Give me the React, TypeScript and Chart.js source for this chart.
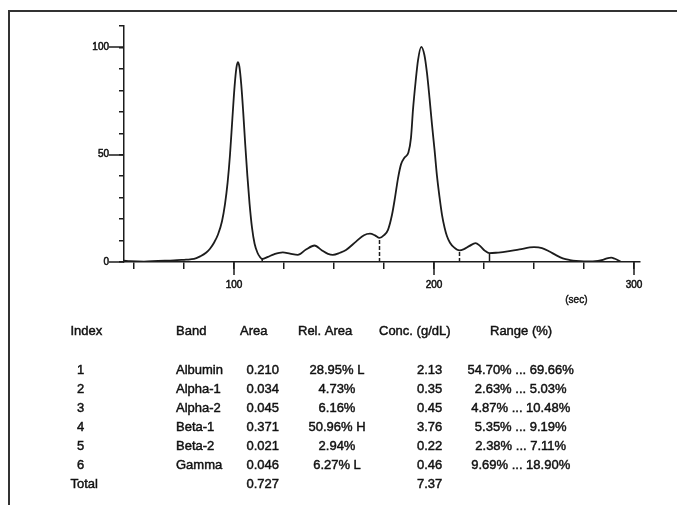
import React, { useEffect, useRef } from 'react';
import { Chart, registerables } from 'chart.js';

Chart.register(...registerables);

// ---- curve (migration time in sec, relative intensity) ----
const curveX = [
  45, 48, 55, 62, 70, 76, 80, 83, 86, 88, 90, 92, 94, 95.5, 96.8, 98, 99.2, 100.3, 101.2, 101.9,
  102.7, 103.6, 104.6, 105.6, 106.7, 107.8, 109, 110.3, 111.8, 113, 114.1, 117, 120, 124.4, 128,
  131.9, 136, 140.25, 144, 147, 149.4, 153, 156, 161, 165, 168, 170.5, 172.75, 175, 177, 179,
  180.5, 182, 183.5, 185.3, 187.2, 188.5, 189.5, 190.8, 192, 193.6, 195.2, 196.5, 197.8, 199,
  200.3, 201.5, 202.8, 204, 205.3, 206.5, 208, 210, 212.75, 215, 217.8, 220.75, 223, 225.5,
  227.75, 232, 236, 242.75, 250, 254, 257.75, 261, 264.4, 268, 271, 275, 279.4, 282, 284.4,
  286.5, 288.6, 290.5, 292.75, 293.6,
];
const curveY = [
  0.6, 0.4, 0.2, 0.5, 0.7, 1.1, 1.4, 2.6, 4.3, 6.2, 9, 12.8, 19, 27, 37, 50, 67, 82, 90.5, 93.2,
  91, 83, 70, 55, 40, 27, 16, 8.5, 4.2, 2.3, 1.4, 2.4, 3.6, 4.5, 3.9,
  3.3, 5.8, 7.7, 5.4, 3.8, 3.3, 4.3, 5.6, 9.5, 12.5, 13.2, 12.4, 11.2, 12.5, 15, 22,
  30, 39, 45.5, 48.7, 51, 58, 71, 84, 94, 100.3, 96.5, 88, 76, 64,
  52, 40, 30, 22, 16, 12, 9, 6.8, 5.4, 6.0, 7.5, 8.8, 7.5, 5.2,
  4.1, 4.4, 4.8, 5.9, 6.9, 6.5, 4.9, 3.2, 1.7, 0.9, 0.5, 0.3, 0.3, 0.5, 1.0,
  1.7, 2.0, 1.5, 0.5, 0,
];

// ---- band boundaries ----
const dividerX = [114.1, 172.75, 212.75, 227.75];
const dividerY = [1.4, 11.2, 5.4, 4.1];
const dividerDashed = [false, true, true, false];

// ---- axes ----
const xTicks = [50, 75, 100, 125, 150, 175, 200, 225, 250, 275, 300];
const xMajor = [100, 200, 300];
const yTicks = [0, 10, 20, 30, 40, 50, 60, 70, 80, 90, 100, 110];
const yMajor = [0, 50, 100];
const xUnit = '(sec)';

// ---- table ----
const headers = ['Index', 'Band', 'Area', 'Rel. Area', 'Conc. (g/dL)', 'Range (%)'];
const indexCol = ['1', '2', '3', '4', '5', '6', 'Total'];
const bandCol = ['Albumin', 'Alpha-1', 'Alpha-2', 'Beta-1', 'Beta-2', 'Gamma', ''];
const areaCol = ['0.210', '0.034', '0.045', '0.371', '0.021', '0.046', '0.727'];
const relAreaCol = ['28.95% L', '4.73%', '6.16%', '50.96% H', '2.94%', '6.27% L', ''];
const concCol = ['2.13', '0.35', '0.45', '3.76', '0.22', '0.46', '7.37'];
const rangeCol = [
  '54.70% ... 69.66%',
  '2.63% ... 5.03%',
  '4.87% ... 10.48%',
  '5.35% ... 9.19%',
  '2.38% ... 7.11%',
  '9.69% ... 18.90%',
  '',
];

const INK = '#1c1c1c';
const FONT = '"Liberation Sans", Arial, Helvetica, sans-serif';

function txt(ctx: CanvasRenderingContext2D, s: string, x: number, y: number) {
  if (!s) return;
  ctx.strokeText(s, x, y);
  ctx.fillText(s, x, y);
}

const overlayPlugin = {
  id: 'overlay',
  afterDraw(chart: any) {
    const ctx = chart.ctx as CanvasRenderingContext2D;
    const xs = chart.scales.x;
    const ys = chart.scales.y;
    ctx.save();
    ctx.strokeStyle = INK;
    ctx.lineWidth = 1.5;
    ctx.beginPath();
    xMajor.forEach((v) => {
      const px = Math.round(xs.getPixelForValue(v));
      ctx.moveTo(px, ys.bottom);
      ctx.lineTo(px, ys.bottom + 13);
    });
    yMajor.forEach((v) => {
      const py = Math.round(ys.getPixelForValue(v));
      ctx.moveTo(xs.left - 15, py);
      ctx.lineTo(xs.left, py);
    });
    ctx.stroke();

    ctx.fillStyle = '#111';
    ctx.strokeStyle = '#111';
    ctx.lineWidth = 0.4;
    ctx.font = `10px ${FONT}`;
    ctx.textAlign = 'center';
    ctx.textBaseline = 'middle';
    txt(ctx, xUnit, xs.getPixelForValue(271.2), ys.bottom + 38);

    // table
    ctx.font = `13px ${FONT}`;
    ctx.lineWidth = 0.45;
    const hy = 331.5;
    ctx.textAlign = 'left';
    txt(ctx, headers[0], 70.5, hy);
    txt(ctx, headers[1], 176, hy);
    txt(ctx, headers[2], 240, hy);
    txt(ctx, headers[3], 298, hy);
    txt(ctx, headers[4], 379, hy);
    txt(ctx, headers[5], 490, hy);
    for (let i = 0; i < indexCol.length; i++) {
      const y = 370 + 19 * i;
      if (indexCol[i] === 'Total') {
        ctx.textAlign = 'left';
        txt(ctx, indexCol[i], 70.5, y);
      } else {
        ctx.textAlign = 'center';
        txt(ctx, indexCol[i], 80.7, y);
      }
      ctx.textAlign = 'left';
      txt(ctx, bandCol[i], 176, y);
      txt(ctx, areaCol[i], 246.5, y);
      txt(ctx, concCol[i], 417, y);
      ctx.textAlign = 'center';
      txt(ctx, relAreaCol[i], 337, y);
      txt(ctx, rangeCol[i], 520.7, y);
    }
    ctx.restore();
  },
};

export default function App() {
  const ref = useRef<HTMLCanvasElement | null>(null);
  useEffect(() => {
    if (!ref.current) return;
    const curve = curveX.map((x, i) => ({ x, y: curveY[i] }));
    const dividers = dividerX.map((x, i) => ({
      data: [
        { x, y: 0 },
        { x, y: dividerY[i] },
      ],
      showLine: true,
      borderColor: INK,
      borderWidth: 1.5,
      borderDash: dividerDashed[i] ? [4, 2] : [],
      pointRadius: 0,
      tension: 0,
    }));
    const chart = new Chart(ref.current, {
      type: 'scatter',
      data: {
        datasets: [
          {
            data: curve,
            showLine: true,
            borderColor: INK,
            borderWidth: 1.8,
            pointRadius: 0,
            cubicInterpolationMode: 'monotone',
          } as any,
          ...(dividers as any[]),
        ],
      },
      plugins: [overlayPlugin],
      options: {
        responsive: false,
        animation: false,
        events: [],
        layout: { padding: { left: 84, top: 26, right: 37, bottom: 203 } },
        plugins: { legend: { display: false }, tooltip: { enabled: false } },
        scales: {
          x: {
            type: 'linear',
            position: 'bottom',
            min: 45,
            max: 303,
            afterBuildTicks: (s: any) => {
              s.ticks = xTicks.map((value) => ({ value }));
            },
            afterFit: (s: any) => {
              s.height = 40;
            },
            border: { display: true, color: INK, width: 1.5 },
            grid: { drawOnChartArea: false, tickLength: 7, color: INK, lineWidth: 1.5 },
            ticks: {
              autoSkip: false,
              maxRotation: 0,
              padding: 10,
              color: '#111',
              textStrokeColor: '#111',
              textStrokeWidth: 0.5,
              font: { size: 10, family: FONT },
              callback: (v: any) => (xMajor.includes(Number(v)) ? String(v) : ''),
            },
          },
          y: {
            type: 'linear',
            min: 0,
            max: 110,
            afterBuildTicks: (s: any) => {
              s.ticks = yTicks.map((value) => ({ value }));
            },
            afterFit: (s: any) => {
              s.width = 40;
            },
            border: { display: true, color: INK, width: 1.5 },
            grid: { drawOnChartArea: false, tickLength: 5, color: INK, lineWidth: 1.5 },
            ticks: {
              autoSkip: false,
              padding: 10,
              color: '#111',
              textStrokeColor: '#111',
              textStrokeWidth: 0.5,
              font: { size: 10, family: FONT },
              callback: (v: any) => (yMajor.includes(Number(v)) ? String(v) : ''),
            },
          },
        },
      },
    } as any);
    return () => chart.destroy();
  }, []);

  return (
    <div style={{ position: 'absolute', left: 0, top: 0, width: 677, height: 505, background: '#fff' }}>
      <div
        style={{
          position: 'absolute',
          left: 8,
          top: 10,
          width: 680,
          height: 500,
          borderLeft: '2px solid #333',
          borderTop: '2px solid #333',
          boxSizing: 'border-box',
        }}
      />
      <canvas ref={ref} width={677} height={505} style={{ position: 'absolute', left: 0, top: 0, display: 'block' }} />
    </div>
  );
}
